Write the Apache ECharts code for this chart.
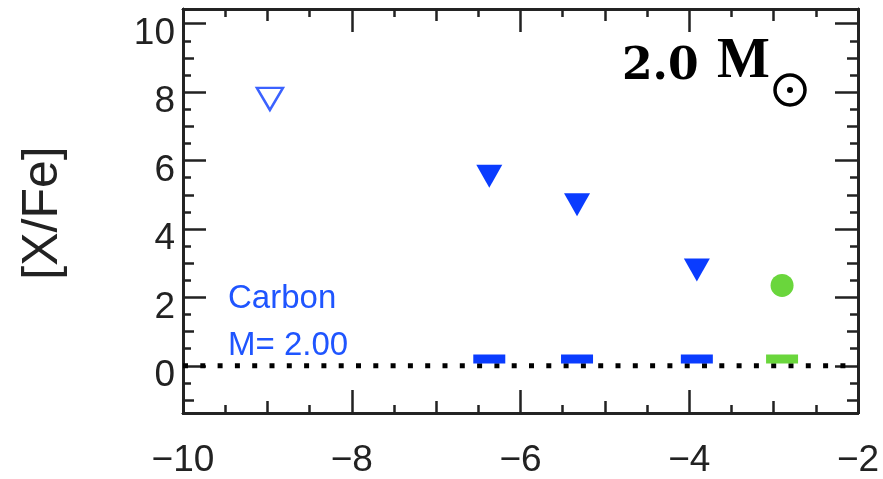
<!DOCTYPE html>
<html>
<head>
<meta charset="utf-8">
<script src="https://cdn.jsdelivr.net/npm/echarts@6/dist/echarts.min.js"></script>
<style>
  html,body{margin:0;padding:0;background:#fff;}
  #main{width:883px;height:479px;}
</style>
</head>
<body>
<div id="main"></div>
<script>
// data
var limX = [-6.37, -5.33, -3.91];      // filled upper limits (blue)
var limY = [5.54, 4.71, 2.80];
var openX = [-8.97];                   // open upper limit
var openY = [7.80];
var dashX = [-6.37, -5.33, -3.91];     // blue bars near zero
var dashY = [0.20, 0.20, 0.20];
var greenX = [-2.90];                  // detection (green)
var greenY = [2.35];
var greenDashX = [-2.90];
var greenDashY = [0.20];

var xMajor = [-10, -8, -6, -4, -2];    // labelled
var xMid = [-9, -7, -5, -3];
var xMinor = [-9.5, -8.5, -7.5, -6.5, -5.5, -4.5, -3.5, -2.5];
var yMajor = [0, 2, 4, 6, 8, 10];
var yMid = [-1, 1, 3, 5, 7, 9];
var yMinor = [-0.5, 0.5, 1.5, 2.5, 3.5, 4.5, 5.5, 6.5, 7.5, 8.5, 9.5];

var XMIN = -10, XMAX = -2, YMIN = -1.38, YMAX = 10.43;
var ink = '#222';
var blue = '#0a3cff';
var green = '#6ad63c';

function pairs(xs, ys){
  var out = [];
  for (var i = 0; i < xs.length; i++) out.push([xs[i], ys[i]]);
  return out;
}

function mkX(pos, ticks, len, labels){
  return {
    type:'value', position:pos, min:XMIN, max:XMAX,
    axisLine:{show:true, onZero:false, lineStyle:{color:ink, width:2.5}},
    axisTick:{show:true, inside:true, length:len, customValues:ticks, lineStyle:{color:ink, width:2.5}},
    axisLabel:{show:!!labels, customValues:ticks, margin:29, color:ink, fontSize:37,
      fontFamily:'Liberation Sans',
      formatter:function(v){ return v < 0 ? '\u2212' + Math.abs(v) : String(v); }},
    splitLine:{show:false}
  };
}
function mkY(pos, ticks, len, labels){
  return {
    type:'value', position:pos, min:YMIN, max:YMAX,
    axisLine:{show:true, onZero:false, lineStyle:{color:ink, width:2.5}},
    axisTick:{show:true, inside:true, length:len, customValues:ticks, lineStyle:{color:ink, width:2.5}},
    axisLabel:{show:!!labels, customValues:ticks, margin:8, color:ink, fontSize:37,
      fontFamily:'Liberation Sans', verticalAlign:'top',
      formatter:function(v){ return '{v|' + v + '}'; },
      rich:{v:{color:ink, fontSize:37, fontFamily:'Liberation Sans', lineHeight:20}}},
    splitLine:{show:false}
  };
}

var chart = echarts.init(document.getElementById('main'));
chart.setOption({
  backgroundColor:'#fff',
  animation:false,
  grid:{left:183, right:25, top:9, bottom:63},
  xAxis:[
    mkX('bottom', xMajor, 23, true),
    mkX('bottom', xMid, 12),
    mkX('bottom', xMinor, 8),
    mkX('top', xMajor, 23),
    mkX('top', xMid, 12),
    mkX('top', xMinor, 8)
  ],
  yAxis:[
    mkY('left', yMajor, 23, true),
    mkY('left', yMid, 11),
    mkY('left', yMinor, 8),
    mkY('right', yMajor, 23),
    mkY('right', yMid, 11),
    mkY('right', yMinor, 8)
  ],
  series:[
    {
      type:'line', data:[[XMIN, 0], [XMAX, 0]], symbol:'none',
      lineStyle:{color:'#000', width:5, type:[5, 12.3], cap:'butt'}, z:1
    },
    {
      type:'scatter', data:pairs(dashX, dashY), symbol:'rect', symbolSize:[32, 9],
      itemStyle:{color:blue, opacity:1}, z:3
    },
    {
      type:'scatter', data:pairs(greenDashX, greenDashY), symbol:'rect', symbolSize:[32, 9],
      itemStyle:{color:green, opacity:1}, z:3
    },
    {
      type:'scatter', data:pairs(limX, limY), symbol:'triangle', symbolRotate:180,
      symbolSize:[26, 23], itemStyle:{color:blue, opacity:1}, z:3
    },
    {
      type:'scatter', data:pairs(openX, openY), symbol:'triangle', symbolRotate:180,
      symbolSize:[26, 22], itemStyle:{color:'#fff', borderColor:'#3b62ff', borderWidth:2.5, opacity:1}, z:3
    },
    {
      type:'scatter', data:pairs(greenX, greenY), symbol:'circle', symbolSize:23,
      itemStyle:{color:green, opacity:1}, z:3
    }
  ],
  graphic:[
    {type:'text', x:43, y:213, rotation:Math.PI/2,
      style:{text:'[X/Fe]', fontSize:50, fontFamily:'Liberation Sans', fill:ink,
        align:'center', verticalAlign:'middle'}},
    {type:'text', x:228, y:299,
      style:{text:'Carbon', fontSize:33, fontFamily:'Liberation Sans', fill:'#1f55ff',
        align:'left', verticalAlign:'middle'}},
    {type:'text', x:228, y:346,
      style:{text:'M= 2.00', fontSize:33, fontFamily:'Liberation Sans', fill:'#1f55ff',
        align:'left', verticalAlign:'middle'}},
    {type:'text', x:622, y:68,
      style:{text:'2.0', fontSize:44, fontWeight:'bold', fontFamily:'DejaVu Serif', fill:'#000',
        align:'left', verticalAlign:'middle'}},
    {type:'text', x:717, y:63,
      style:{text:'M', fontSize:56, fontWeight:'bold', fontFamily:'Liberation Serif', fill:'#000',
        align:'left', verticalAlign:'middle'}},
    {type:'circle', shape:{cx:790, cy:90, r:15}, style:{fill:'none', stroke:'#000', lineWidth:3.5}},
    {type:'circle', shape:{cx:790, cy:90, r:3}, style:{fill:'#000'}}
  ]
});
</script>
</body>
</html>
